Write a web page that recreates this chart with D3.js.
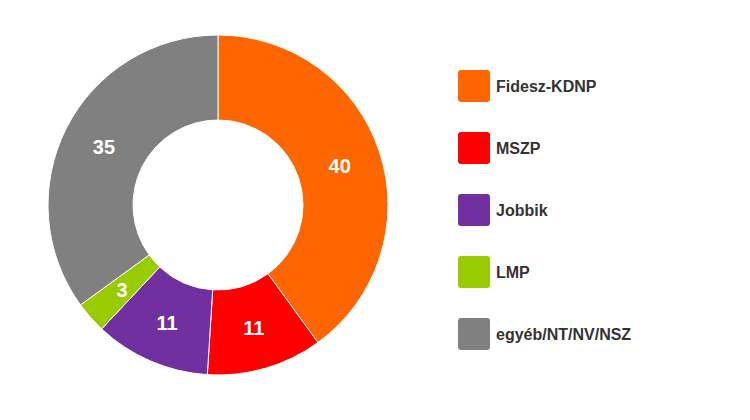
<!DOCTYPE html>
<html><head><meta charset="utf-8">
<script src="https://cdn.jsdelivr.net/npm/d3@7"></script>
<style>body{margin:0;background:#fff}</style></head>
<body><svg id="c" width="750" height="420"></svg>
<script>
const categories=["Fidesz-KDNP","MSZP","Jobbik","LMP","egyéb/NT/NV/NSZ"];
const values=[40,11,11,3,35];
const colors=["#FF6600","#FF0000","#7030A0","#99CC00","#808080"];
const svg=d3.select("#c");
const cx=218,cy=205,R=170,r=85;
const pie=d3.pie().sort(null)(values);
const arc=d3.arc().innerRadius(r).outerRadius(R);
const lab=d3.arc().innerRadius(128).outerRadius(128);
const g=svg.append("g").attr("transform",`translate(${cx},${cy})`);
g.selectAll("path").data(pie).join("path").attr("d",arc)
 .attr("fill",(d,i)=>colors[i]).attr("stroke","#fff").attr("stroke-width",1);
g.selectAll("text").data(pie).join("text")
 .attr("transform",d=>`translate(${lab.centroid(d)})`)
 .attr("text-anchor","middle").attr("dy","0.36em")
 .attr("fill","#fff").attr("font-family","Arial, Liberation Sans, sans-serif")
 .attr("font-weight","bold").attr("font-size",20).text(d=>d.data);
const y=d3.scalePoint().domain(categories).range([86,334]);
const lg=svg.append("g");
categories.forEach((c,i)=>{
 lg.append("rect").attr("x",458).attr("y",y(c)-16).attr("width",32).attr("height",32)
  .attr("rx",3).attr("fill",colors[i]);
 lg.append("text").attr("x",496).attr("y",y(c)).attr("dy","0.36em")
  .attr("font-family","Arial, Liberation Sans, sans-serif").attr("font-weight","bold")
  .attr("font-size",16).attr("fill","#333").text(c);
});
</script></body></html>
